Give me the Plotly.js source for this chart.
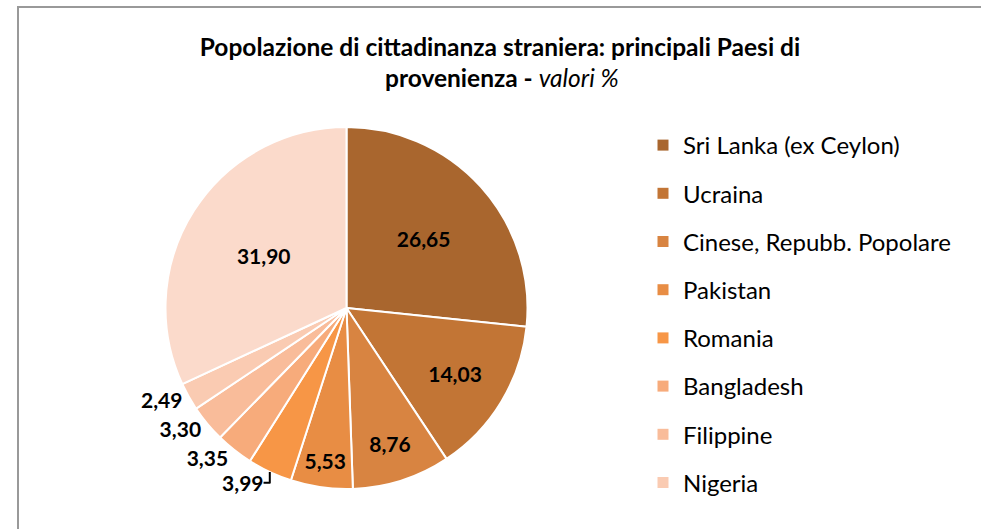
<!DOCTYPE html>
<html>
<head>
<meta charset="utf-8">
<script src="https://cdn.plot.ly/plotly-3.0.1.min.js"></script>
<style>html,body{margin:0;padding:0;background:#fff;}#chart{width:981px;height:529px;}</style>
</head>
<body>
<div id="chart"></div>
<script>
// Data
var countries = ["Sri Lanka (ex Ceylon)", "Ucraina", "Cinese, Repubb. Popolare", "Pakistan", "Romania", "Bangladesh", "Filippine", "Nigeria", "Altri Paesi"];
var shares = [26.65, 14.03, 8.76, 5.53, 3.99, 3.35, 3.30, 2.49, 31.90];
var sliceColors = ["#A9662E", "#C27535", "#D88441", "#E88D44", "#F79646", "#F7AB7B", "#F9BC9A", "#FACBB2", "#FBDACB"];
var legendCount = 8; // legend lists the named countries only

var FONT = "Lato, 'Open Sans', sans-serif";
var W = 981, H = 529;
var cx = 346.5, cy = 308, R = 181;

var traces = [{
  type: "pie",
  labels: countries,
  values: shares,
  sort: false,
  direction: "clockwise",
  rotation: 0,
  marker: {colors: sliceColors, line: {color: "#ffffff", width: 2}},
  texttemplate: "%{value:.2f}",
  textposition: ["inside","inside","inside","inside","outside","outside","outside","outside","inside"],
  insidetextorientation: "horizontal",
  textfont: {family: FONT, size: 21, color: "#000", weight: "bold"},
  insidetextfont: {family: FONT, size: 21, color: "#000", weight: "bold"},
  outsidetextfont: {family: FONT, size: 21, color: "#000", weight: "bold"},
  showlegend: false,
  hoverinfo: "label+value",
  domain: {x: [(cx - R) / W, (cx + R) / W], y: [1 - (cy + R) / H, 1 - (cy - R) / H]}
}];

for (var i = 0; i < legendCount; i++) {
  traces.push({
    type: "scatter", mode: "markers", x: [null], y: [null],
    name: countries[i], legendgroup: "g" + i,
    marker: {symbol: "square", size: 11, color: sliceColors[i]},
    showlegend: true, hoverinfo: "skip"
  });
}

var layout = {
  width: W, height: H,
  margin: {l: 0, r: 0, t: 0, b: 0},
  paper_bgcolor: "#ffffff", plot_bgcolor: "rgba(0,0,0,0)",
  separators: ",.",
  font: {family: FONT, color: "#000"},
  title: {
    text: "<b>Popolazione di cittadinanza straniera: principali Paesi di</b>",
    font: {family: FONT, size: 24.5, color: "#000"},
    x: 500 / W, xanchor: "center", y: 1 - 47 / H, yanchor: "middle"
  },
  annotations: [{
    text: "<b>provenienza - </b><i>valori %</i>",
    xref: "paper", yref: "paper", x: 502 / W, y: 1 - 78 / H,
    xanchor: "center", yanchor: "middle", showarrow: false,
    font: {family: FONT, size: 24.5, color: "#000"}
  }],
  xaxis: {visible: false}, yaxis: {visible: false},
  showlegend: true,
  legend: {
    x: 643 / W, xanchor: "left", y: 1 - 123 / H, yanchor: "top",
    font: {family: FONT, size: 24, color: "#000"},
    tracegroupgap: 14, bgcolor: "rgba(0,0,0,0)", borderwidth: 0
  },
  shapes: [{
    type: "rect", xref: "paper", yref: "paper",
    x0: 18 / W, x1: 1.05, y0: -0.05, y1: 1 - 7 / H,
    line: {color: "#999999", width: 2}, fillcolor: "rgba(0,0,0,0)", layer: "below"
  }]
};

Plotly.newPlot("chart", traces, layout, {displayModeBar: false, staticPlot: true});
</script>
</body>
</html>
